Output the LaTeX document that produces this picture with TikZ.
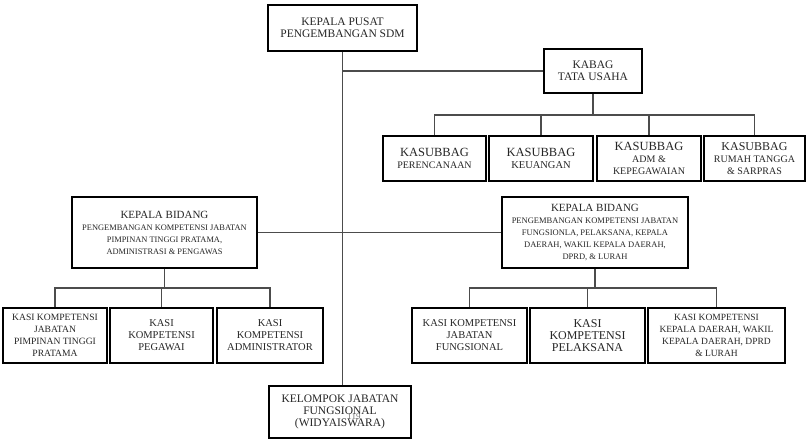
\documentclass[tikz,border=0pt]{standalone}
\usepackage{fontspec}
\setmainfont{Liberation Serif}
\newcommand{\fsz}[2]{\fontsize{#1}{#2}\selectfont}
\begin{document}
\begin{tikzpicture}[x=1pt,y=-1pt,
  box/.style={draw=black, line width=2pt, align=center, inner sep=1pt, fill=white, text=black!85},
  conn/.style={draw=black!70, line width=1.1pt}]
\useasboundingbox (0,0) rectangle (807,440);
% top
\node[box, minimum width=149pt, minimum height=46pt] (top) at (342.5,28)
  {\fsz{11.5}{16}KEPALA PUSAT\\\fsz{11.5}{16}PENGEMBANGAN SDM};
\node[box, minimum width=98pt, minimum height=44pt] (kabag) at (593,71)
  {\fsz{11.5}{15}KABAG\\\fsz{11.5}{15}TATA USAHA};
% kasubbag
\node[box, minimum width=103pt, minimum height=45pt] (s1) at (434.5,158.5)
  {\fsz{12.5}{15}KASUBBAG\\\fsz{10}{14}PERENCANAAN};
\node[box, minimum width=104pt, minimum height=45pt] (s2) at (541,158.5)
  {\fsz{12.5}{15}KASUBBAG\\\fsz{10.5}{14}KEUANGAN};
\node[box, minimum width=104pt, minimum height=45pt] (s3) at (649,158.5)
  {\fsz{12.5}{12}KASUBBAG\\\fsz{10}{12}ADM \&\\\fsz{10}{12}KEPEGAWAIAN};
\node[box, minimum width=101pt, minimum height=45pt] (s4) at (754.5,158.5)
  {\fsz{12}{12}KASUBBAG\\\fsz{10}{12}RUMAH TANGGA\\\fsz{10}{12}\& SARPRAS};
% kepala bidang
\node[box, minimum width=185pt, minimum height=71pt] (lkb) at (164.5,232.5)
  {\fsz{11}{13}KEPALA BIDANG\\\fsz{8.4}{10.5}PENGEMBANGAN KOMPETENSI JABATAN\\\fsz{8.4}{10.5}PIMPINAN TINGGI PRATAMA,\\\fsz{8.4}{10.5}ADMINISTRASI \& PENGAWAS};
\node[box, minimum width=186pt, minimum height=71pt] (rkb) at (595,232.5)
  {\fsz{11}{12}KEPALA BIDANG\\\fsz{8.5}{10}PENGEMBANGAN KOMPETENSI JABATAN\\\fsz{8.5}{10}FUNGSIONLA, PELAKSANA, KEPALA\\\fsz{8.5}{10}DAERAH, WAKIL KEPALA DAERAH,\\\fsz{8.5}{10}DPRD, \& LURAH};
% left kasi
\node[box, minimum width=104pt, minimum height=55pt] (l1) at (55,335.5)
  {\fsz{9.6}{11.5}KASI KOMPETENSI\\\fsz{9.6}{11.5}JABATAN\\\fsz{9.6}{11.5}PIMPINAN TINGGI\\\fsz{9.6}{11.5}PRATAMA};
\node[box, minimum width=103pt, minimum height=55pt] (l2) at (161.5,335.5)
  {\fsz{10.5}{11.5}KASI\\\fsz{10.5}{11.5}KOMPETENSI\\\fsz{10.5}{11.5}PEGAWAI};
\node[box, minimum width=106pt, minimum height=55pt] (l3) at (270,335.5)
  {\fsz{10.5}{11.5}KASI\\\fsz{10.5}{11.5}KOMPETENSI\\\fsz{10.5}{11.5}ADMINISTRATOR};
% right kasi
\node[box, minimum width=115pt, minimum height=55pt] (r1) at (469.5,335.5)
  {\fsz{10.5}{11.5}KASI KOMPETENSI\\\fsz{10.5}{11.5}JABATAN\\\fsz{10.5}{11.5}FUNGSIONAL};
\node[box, minimum width=115pt, minimum height=55pt] (r2) at (587.5,335.5)
  {\fsz{12}{12.5}KASI\\\fsz{12}{12.5}KOMPETENSI\\\fsz{12}{12.5}PELAKSANA};
\node[box, minimum width=137pt, minimum height=55pt] (r3) at (716.5,335.5)
  {\fsz{9.5}{11.5}KASI KOMPETENSI\\\fsz{9.5}{11.5}KEPALA DAERAH, WAKIL\\\fsz{9.5}{11.5}KEPALA DAERAH, DPRD\\\fsz{9.5}{11.5}\& LURAH};
% kelompok
\node[box, minimum width=142pt, minimum height=52pt] (kel) at (340,412)
  {\fsz{11.5}{12.5}KELOMPOK JABATAN\\\fsz{11.5}{12.5}FUNGSIONAL\\\fsz{11.5}{12.5}(WIDYAISWARA)};
\node[text=black!55, font=\fsz{9}{10}, inner sep=0pt] (pg) at (354,417) {119};
% connectors
\draw[conn] (top.south) -- (top.south |- kel.north);
\draw[conn] (top.south |- kabag.west) -- (kabag.west);
\coordinate (kbus) at (593,115);
\draw[conn] (kabag.south) -- (kbus);
\draw[conn] (s1.north) -- (s1.north |- kbus) -- (s4.north |- kbus) -- (s4.north);
\draw[conn] (s2.north) -- (s2.north |- kbus);
\draw[conn] (s3.north) -- (s3.north |- kbus);
\draw[conn] (lkb.east) -- (rkb.west);
\coordinate (lbus) at (164.5,288);
\draw[conn] (lkb.south) -- (lbus);
\draw[conn] (l1.north) -- (l1.north |- lbus) -- (l3.north |- lbus) -- (l3.north);
\draw[conn] (l2.north) -- (l2.north |- lbus);
\coordinate (rbus) at (595,288);
\draw[conn] (rkb.south) -- (rbus);
\draw[conn] (r1.north) -- (r1.north |- rbus) -- (r3.north |- rbus) -- (r3.north);
\draw[conn] (r2.north) -- (r2.north |- rbus);
\end{tikzpicture}
\end{document}
